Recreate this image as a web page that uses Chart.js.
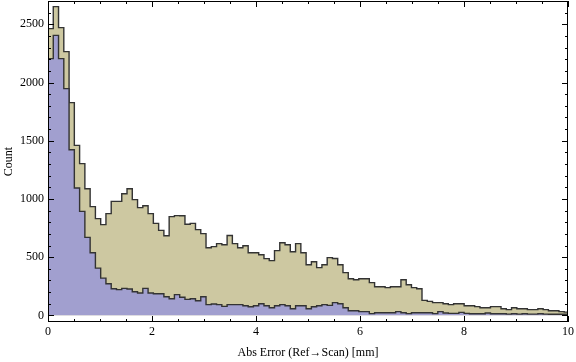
<!DOCTYPE html>
<html>
<head>
<meta charset="utf-8">
<script src="https://cdn.jsdelivr.net/npm/chart.js@4/dist/chart.umd.min.js"></script>
<style>
  html, body { margin: 0; padding: 0; background: #fff; }
  #wrap { width: 576px; height: 362px; }
</style>
</head>
<body>
<div id="wrap"><canvas id="errorChart" width="576" height="362"></canvas></div>
<script>
const binWidth = 0.1013;

// counts per bin
const allCounts = [
  2463, 2652, 2471, 2265, 1827, 1460, 1303, 1088, 934, 831,
  779, 874, 979, 979, 1045, 1088, 994, 925, 942, 874,
  790, 730, 684, 848, 857, 855, 782, 790, 736, 702,
  581, 590, 616, 607, 686, 616, 581, 598, 538, 538,
  521, 487, 470, 556, 624, 607, 547, 616, 538, 435,
  461, 410, 435, 496, 488, 435, 367, 315, 306, 315,
  315, 281, 246, 246, 238, 246, 246, 306, 263, 238,
  229, 129, 120, 109, 109, 100, 92, 100, 100, 83,
  83, 75, 66, 66, 75, 75, 57, 49, 66, 57,
  57, 49, 49, 57, 49, 40, 40, 32, 28
];
const nearCounts = [
  2205, 2405, 2205, 1947, 1423, 1094, 893, 670, 538, 406,
  320, 272, 229, 221, 232, 226, 203, 192, 232, 192,
  186, 186, 160, 143, 178, 155, 137, 143, 126, 160,
  92, 97, 92, 77, 92, 92, 92, 83, 74, 83,
  100, 83, 66, 83, 92, 83, 57, 83, 83, 57,
  74, 83, 92, 86, 109, 100, 66, 40, 40, 32,
  32, 15, 23, 23, 23, 23, 32, 23, 15, 23,
  23, 23, 23, 15, 32, 20, 17, 17, 26, 17,
  14, 14, 14, 20, 14, 14, 14, 11, 14, 11,
  14, 11, 11, 14, 11, 9, 9, 9, 9
];

const xTicks = [0, 2, 4, 6, 8, 10];
const yTicks = [0, 500, 1000, 1500, 2000, 2500];

function toPoints(counts) {
  const pts = counts.map((c, i) => ({ x: i * binWidth, y: c }));
  pts.push({ x: counts.length * binWidth, y: counts[counts.length - 1] });
  return pts;
}

// Mathematica style frame with inward ticks on all sides
const framePlugin = {
  id: "frame",
  afterDatasetsDraw(chart) {
    const { ctx, chartArea: a, scales: { x, y } } = chart;
    ctx.save();
    ctx.strokeStyle = "#000";
    ctx.lineWidth = 1;
    ctx.beginPath();
    for (let i = 0; i <= 20; i++) {
      const px = Math.round(x.getPixelForValue(i * 0.5)) + 0.5;
      const len = i % 4 === 0 ? 6 : 3;
      ctx.moveTo(px, a.bottom); ctx.lineTo(px, a.bottom - len);
      ctx.moveTo(px, a.top); ctx.lineTo(px, a.top + len);
    }
    for (let v = 0; v <= 2700; v += 100) {
      const py = Math.round(y.getPixelForValue(v)) + 0.5;
      const len = v % 500 === 0 ? 6 : 3;
      ctx.moveTo(a.left, py); ctx.lineTo(a.left + len, py);
      ctx.moveTo(a.right, py); ctx.lineTo(a.right - len, py);
    }
    ctx.stroke();
    ctx.strokeRect(a.left + 0.5, a.top + 0.5, a.right - a.left - 1, a.bottom - a.top - 1);
    ctx.restore();
  }
};

const labelFont = { family: "'Liberation Serif', 'DejaVu Serif', serif", size: 12 };

new Chart(document.getElementById("errorChart"), {
  type: "line",
  data: {
    datasets: [
      {
        data: toPoints(nearCounts),
        stepped: true,
        fill: "origin",
        backgroundColor: "rgb(161, 159, 207)",
        borderColor: "#333",
        borderWidth: 1.4,
        pointRadius: 0,
        order: 1
      },
      {
        data: toPoints(allCounts),
        stepped: true,
        fill: "origin",
        backgroundColor: "rgb(205, 200, 161)",
        borderColor: "#333",
        borderWidth: 1.4,
        pointRadius: 0,
        order: 2
      }
    ]
  },
  options: {
    responsive: false,
    animation: false,
    layout: { padding: { top: 1, right: 8, bottom: 0, left: 0 } },
    plugins: { legend: { display: false }, tooltip: { enabled: false } },
    scales: {
      x: {
        type: "linear",
        min: 0,
        max: 10,
        grid: { display: false, drawTicks: false },
        border: { display: false },
        afterBuildTicks: axis => { axis.ticks = xTicks.map(v => ({ value: v })); },
        afterFit: axis => {
          axis.height = 40;
          axis.paddingLeft = 0;
          axis.paddingRight = 0;
        },
        ticks: { color: "#000", font: labelFont, padding: 3, maxRotation: 0, callback: v => String(v) },
        title: {
          display: true,
          text: "Abs Error (Ref\u2192Scan) [mm]",
          color: "#000",
          font: labelFont,
          padding: { top: 0, bottom: 2 }
        }
      },
      y: {
        min: -57,
        max: 2700,
        grid: { display: false, drawTicks: false },
        border: { display: false },
        afterBuildTicks: axis => { axis.ticks = yTicks.map(v => ({ value: v })); },
        afterFit: axis => {
          axis.width = 48;
          axis.paddingTop = 0;
          axis.paddingBottom = 0;
        },
        ticks: { color: "#000", font: labelFont, padding: 4, callback: v => String(v) },
        title: {
          display: true,
          text: "Count",
          color: "#000",
          font: labelFont,
          padding: { top: 2, bottom: 0 }
        }
      }
    }
  },
  plugins: [framePlugin]
});
</script>
</body>
</html>
